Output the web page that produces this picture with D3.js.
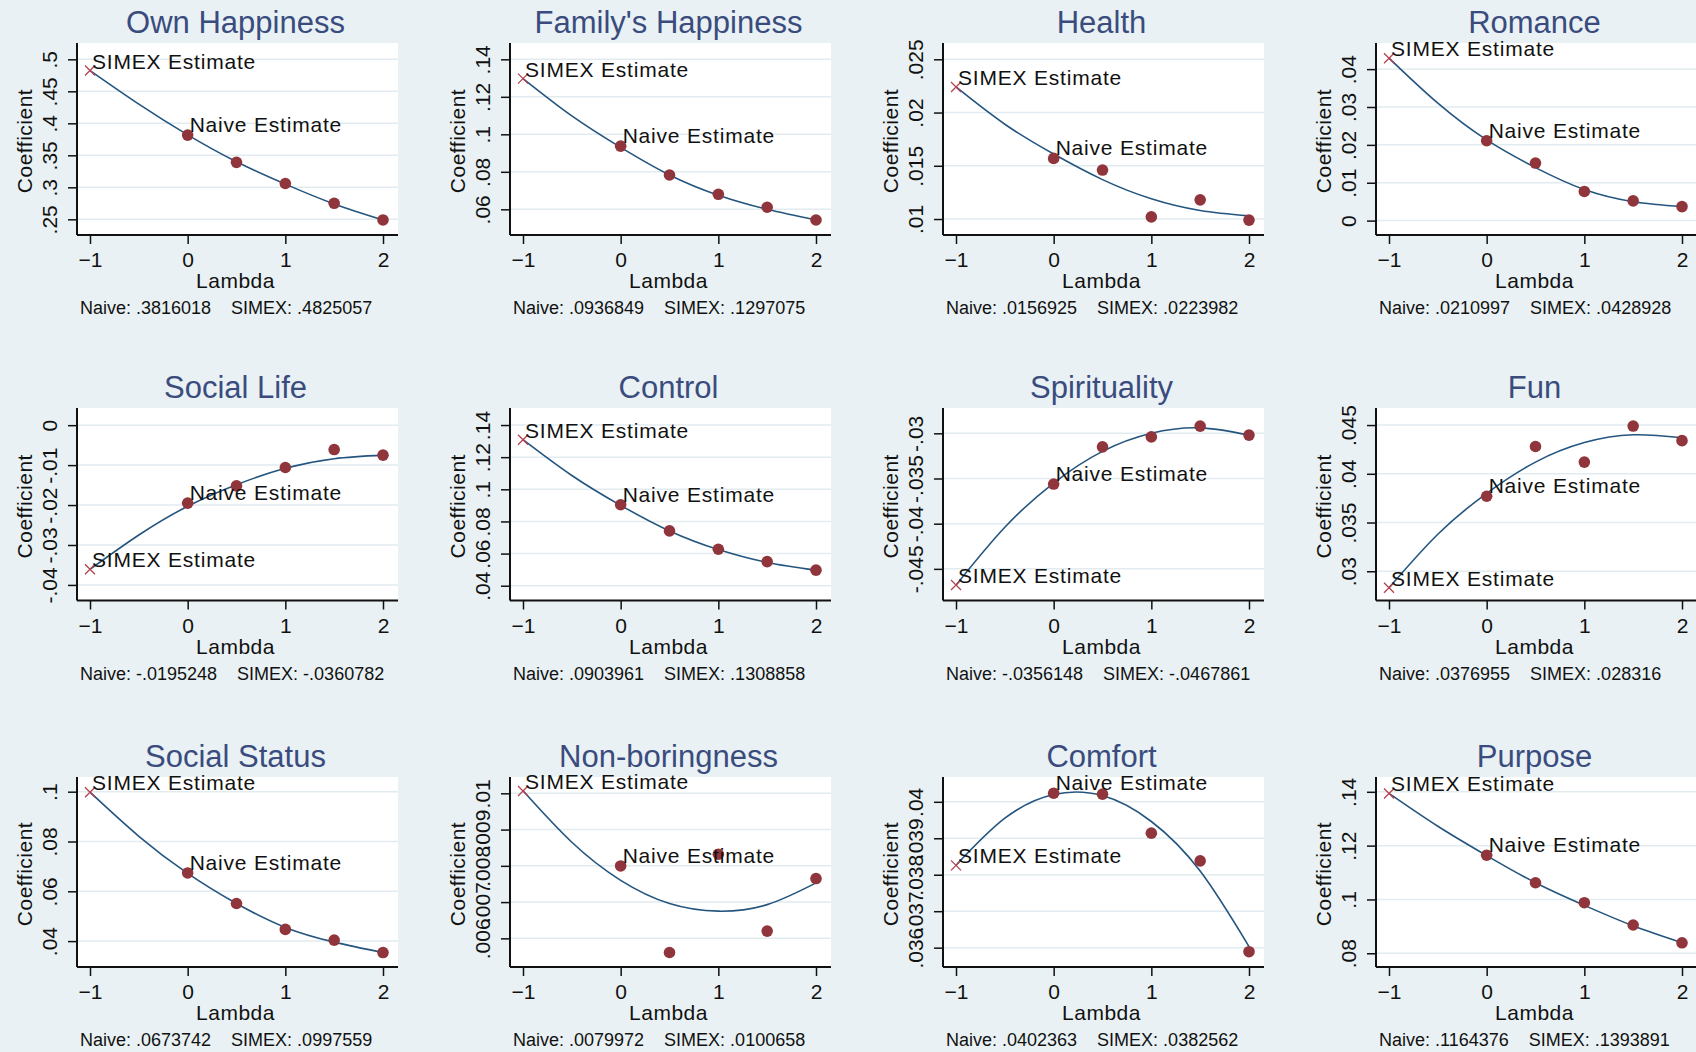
<!DOCTYPE html>
<html>
<head>
<meta charset="utf-8">
<script src="https://cdn.jsdelivr.net/npm/d3@7"></script>
<style>
body { margin: 0; background: #e9f1f4; }
svg { display: block; font-family: "Liberation Sans", Arial, sans-serif; }
</style>
</head>
<body>
<svg id="mainSvg" width="1696" height="1052"></svg>
<script>
var titles = ["Own Happiness", "Family's Happiness", "Health", "Romance",
	"Social Life", "Control", "Spirituality", "Fun",
	"Social Status", "Non-boringness", "Comfort", "Purpose"];

var xTicks = [-1, 0, 1, 2];
var lambdas = [0, 0.5, 1, 1.5, 2];
var fitLambdas = [-1, -0.5, 0, 0.5, 1, 1.5, 2];

// naive estimates at lambda = 0, .5, 1, 1.5, 2
var naiveEst = [
	[.3816018, .339, .306, .275, .249],
	[.0936849, .0783, .068, .0611, .0543],
	[.0156925, .0146, .0102, .0118, .0099],
	[.0210997, .0152, .0077, .0052, .0037],
	[-.0195248, -.0152, -.0106, -.0061, -.0075],
	[.0903961, .0741, .0627, .0550, .0497],
	[-.0356148, -.0315, -.0304, -.0292, -.0302],
	[.0376955, .0428, .0412, .0449, .0434],
	[.0673742, .0551, .0447, .0404, .0354],
	[.0079972, .00561, .00832, .0062, .00765],
	[.0402363, .04021, .03914, .03838, .03589],
	[.1164376, .1062, .0988, .0905, .0839]
];

var simexEst = [.4825057, .1297075, .0223982, .0428928, -.0360782, .1308858,
	-.0467861, .028316, .0997559, .0100658, .0382562, .1393891];

// fitted curve read at lambda = -1, -.5, 0, .5, 1, 1.5, 2
var fitCurve = [
	[.4825, .430, .382, .340, .305, .274, .249],
	[.1297, .1098, .0930, .0783, .0675, .0600, .0543],
	[.0224, .0189, .0161, .0137, .0119, .0108, .0103],
	[.0429, .0310, .0213, .0140, .0082, .0050, .0037],
	[-.0361, -.0275, -.0203, -.0149, -.0108, -.0084, -.0075],
	[.1309, .1086, .0900, .0741, .0625, .0545, .0497],
	[-.0468, -.0404, -.0355, -.0320, -.0300, -.0294, -.0302],
	[.0283, .0338, .0380, .0412, .0432, .0440, .0437],
	[.0998, .0821, .0672, .0551, .0455, .0396, .0354],
	[.01007, .00865, .00760, .00696, .00675, .00693, .00753],
	[.03826, .03955, .04020, .04017, .03946, .03810, .03603],
	[.1394, .1272, .1163, .1062, .0978, .0902, .0839]
];

var yTicks = [
	[.25, .3, .35, .4, .45, .5],
	[.06, .08, .1, .12, .14],
	[.01, .015, .02, .025],
	[0, .01, .02, .03, .04],
	[-.04, -.03, -.02, -.01, 0],
	[.04, .06, .08, .1, .12, .14],
	[-.045, -.04, -.035, -.03],
	[.03, .035, .04, .045],
	[.04, .06, .08, .1],
	[.006, .007, .008, .009, .01],
	[.036, .037, .038, .039, .04],
	[.08, .1, .12, .14]
];

// axis range: value at bottom and top of the plot region
var yRange = [
	[.2255, .5255], [.0463, .1487], [.0085, .02653], [-.0038, .0469],
	[-.0439, .0043], [.0308, .1506], [-.0485, -.0272], [.0270, .04675],
	[.0296, .1059], [.00521, .01045], [.03547, .04068], [.0749, .1455]
];

var svg = d3.select("#mainSvg");
var colStep = 433;
var rowTop = [43, 408, 777];
var rowBottom = [235, 600.5, 967];

function fmt(v)
{
	return String(v).replace(/^(-?)0\./, "$1.");
}

function drawPanel(i)
{
	var col = i % 4, row = Math.floor(i / 4);
	var ox = col * colStep;
	var left = 77 + ox, right = 398 + ox;
	var top = rowTop[row], bottom = rowBottom[row];
	var x = d3.scaleLinear().domain([-1, 2]).range([90 + ox, 383 + ox]);
	var y = d3.scaleLinear().domain(yRange[i]).range([bottom, top]);
	var g = svg.append("g");

	g.append("rect").attr("x", left).attr("y", top)
		.attr("width", right - left).attr("height", bottom - top).attr("fill", "#fff");

	g.selectAll(".grid").data(yTicks[i]).enter().append("line")
		.attr("class", "grid")
		.attr("x1", left).attr("x2", right)
		.attr("y1", function(d) { return y(d); })
		.attr("y2", function(d) { return y(d); })
		.attr("stroke", "#e1ebf0").attr("stroke-width", 1.5);

	var pts = fitLambdas.map(function(l, k) { return [l, fitCurve[i][k]]; });
	var line = d3.line().x(function(d) { return x(d[0]); })
		.y(function(d) { return y(d[1]); }).curve(d3.curveNatural);
	g.append("path").datum(pts).attr("d", line)
		.attr("fill", "none").attr("stroke", "#24557f").attr("stroke-width", 1.6);

	g.selectAll(".naive").data(lambdas).enter().append("circle")
		.attr("class", "naive")
		.attr("cx", function(d) { return x(d); })
		.attr("cy", function(d, k) { return y(naiveEst[i][k]); })
		.attr("r", 5.8).attr("fill", "#90353b");

	var sx = x(-1), sy = y(simexEst[i]);
	g.append("path")
		.attr("d", "M" + (sx - 5) + "," + (sy - 5) + "L" + (sx + 5) + "," + (sy + 5) +
			"M" + (sx - 5) + "," + (sy + 5) + "L" + (sx + 5) + "," + (sy - 5))
		.attr("stroke", "#b5424f").attr("stroke-width", 1.3);

	g.append("text").attr("x", sx + 2).attr("y", sy - 2)
		.attr("font-size", 21).attr("letter-spacing", "0.8px").attr("fill", "#111")
		.text("SIMEX Estimate");
	g.append("text").attr("x", x(0) + 2).attr("y", y(naiveEst[i][0]) - 3)
		.attr("font-size", 21).attr("letter-spacing", "0.8px").attr("fill", "#111")
		.text("Naive Estimate");

	var yAxis = g.append("g").attr("transform", "translate(" + left + ",0)")
		.call(d3.axisLeft(y).tickValues(yTicks[i]).tickSize(9).tickSizeOuter(0).tickFormat(fmt));
	yAxis.attr("font-size", 21).attr("font-family", null);
	yAxis.select(".domain").remove();
	yAxis.selectAll("line").attr("stroke", "#111").attr("stroke-width", 1.5);
	yAxis.selectAll("text").attr("transform", "rotate(-90)")
		.attr("x", 0).attr("y", -20).attr("dy", null)
		.attr("text-anchor", "middle").attr("fill", "#111");

	var xAxis = g.append("g").attr("transform", "translate(0," + bottom + ")")
		.call(d3.axisBottom(x).tickValues(xTicks).tickSize(9).tickSizeOuter(0).tickFormat(d3.format("d")));
	xAxis.attr("font-size", 21).attr("font-family", null);
	xAxis.select(".domain").remove();
	xAxis.selectAll("line").attr("stroke", "#111").attr("stroke-width", 1.5);
	xAxis.selectAll("text").attr("y", 32).attr("dy", null).attr("fill", "#111");

	g.append("line").attr("x1", left).attr("x2", left).attr("y1", top).attr("y2", bottom)
		.attr("stroke", "#111").attr("stroke-width", 2);
	g.append("line").attr("x1", left).attr("x2", right).attr("y1", bottom).attr("y2", bottom)
		.attr("stroke", "#111").attr("stroke-width", 2);

	var cx = (left + right) / 2 - 2;
	g.append("text").attr("x", cx).attr("y", top - 10)
		.attr("text-anchor", "middle").attr("font-size", 31).attr("fill", "#3a4c7e")
		.text(titles[i]);
	g.append("text").attr("x", cx).attr("y", bottom + 53)
		.attr("text-anchor", "middle").attr("font-size", 21).attr("letter-spacing", "0.5px")
		.attr("fill", "#111").text("Lambda");
	g.append("text")
		.attr("transform", "translate(" + (left - 45) + "," + ((top + bottom) / 2 + 2) + ") rotate(-90)")
		.attr("text-anchor", "middle").attr("font-size", 21).attr("letter-spacing", "0.5px")
		.attr("fill", "#111").text("Coefficient");
	g.append("text").attr("x", left + 3).attr("y", bottom + 79)
		.attr("font-size", 18).attr("fill", "#111").attr("xml:space", "preserve")
		.style("white-space", "pre")
		.text("Naive: " + fmt(naiveEst[i][0]) + "    SIMEX: " + fmt(simexEst[i]));
}

for(var i = 0; i < titles.length; i++)
	drawPanel(i);
</script>
</body>
</html>
